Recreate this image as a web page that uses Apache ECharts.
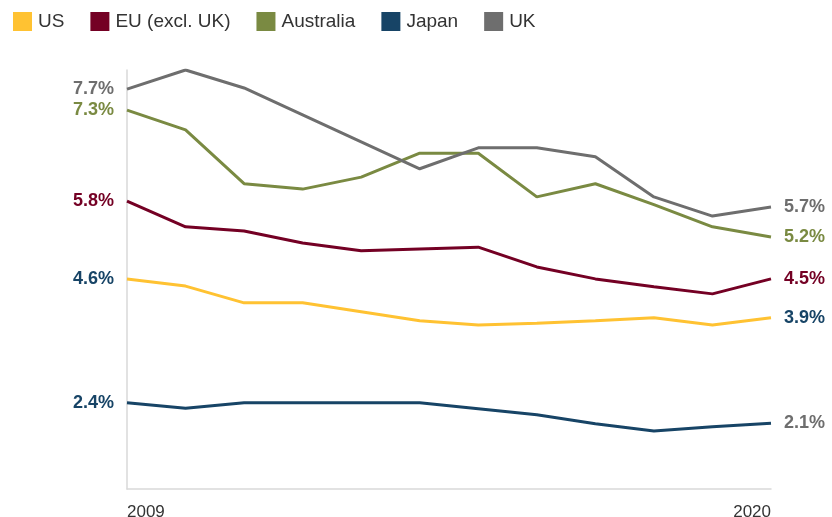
<!DOCTYPE html>
<html>
<head>
<meta charset="utf-8">
<script src="https://cdn.jsdelivr.net/npm/echarts@6/dist/echarts.min.js"></script>
<style>
html,body{margin:0;padding:0;background:#fff;}
#chart{width:832px;height:517px;}
</style>
</head>
<body>
<div id="chart"></div>
<script>
const years = ['2009','2010','2011','2012','2013','2014','2015','2016','2017','2018','2019','2020'];
const seriesNames = ['US','EU (excl. UK)','Australia','Japan','UK'];
const colors = ['#FFC232','#740024','#7A8A42','#174466','#6E6E6E'];
const us        = [4.51,4.39,4.11,4.11,3.96,3.81,3.74,3.77,3.81,3.86,3.74,3.86];
const eu        = [5.81,5.38,5.31,5.11,4.98,5.01,5.04,4.71,4.51,4.38,4.26,4.51];
const australia = [7.33,7.00,6.10,6.01,6.21,6.61,6.61,5.88,6.10,5.75,5.38,5.21];
const japan     = [2.44,2.35,2.44,2.44,2.44,2.44,2.34,2.24,2.09,1.97,2.04,2.10];
const uk        = [7.68,8.00,7.70,7.25,6.80,6.35,6.70,6.70,6.55,5.88,5.56,5.71];
const startLabels = ['4.6%','5.8%','7.3%','2.4%','7.7%'];
const endLabels   = ['3.9%','4.5%','5.2%','2.1%','5.7%'];
const startLabelColors = ['#174466','#740024','#7A8A42','#174466','#6E6E6E'];
const endLabelColors   = ['#174466','#740024','#7A8A42','#6E6E6E','#6E6E6E'];
const allData = [us, eu, australia, japan, uk];

const labelFont = {fontFamily:'Liberation Sans, Arial, sans-serif', fontSize:18, fontWeight:600};

const series = allData.map((arr, i) => ({
  name: seriesNames[i],
  type: 'line',
  symbol: 'circle',
  symbolSize: 0,
  showSymbol: true,
  showAllSymbol: true,
  lineStyle: {width: 3, color: colors[i]},
  itemStyle: {color: colors[i]},
  emphasis: {disabled: true},
  data: arr.map((v, j) => {
    if (j === 0) return {value: v, label: Object.assign({show:true, position:'left', distance:13, formatter: startLabels[i], color: startLabelColors[i]}, labelFont)};
    if (j === arr.length - 1) return {value: v, label: Object.assign({show:true, position:'right', distance:13, formatter: endLabels[i], color: endLabelColors[i]}, labelFont)};
    return v;
  })
}));

const chart = echarts.init(document.getElementById('chart'), null, {renderer:'canvas'});
chart.setOption({
  animation: false,
  color: colors,
  legend: {
    left: 8, top: 7,
    icon: 'rect', itemWidth: 19, itemHeight: 19, itemGap: 26,
    textStyle: {fontFamily:'Liberation Sans, Arial, sans-serif', fontSize: 19, color:'#333', padding:[0,0,0,1]},
    data: seriesNames
  },
  grid: {left: 127, right: 61, top: 70, bottom: 28, containLabel: false, outerBoundsMode: 'none'},
  xAxis: {
    type: 'category', data: years, boundaryGap: false,
    axisLine: {show: true, lineStyle: {color:'#d9d9d9', width: 1.5}},
    axisTick: {show: false},
    axisLabel: {
      interval: (idx) => idx === 0 || idx === years.length - 1,
      margin: 15, color:'#333', fontSize: 17, fontFamily:'Liberation Sans, Arial, sans-serif',
      alignMinLabel: 'left', alignMaxLabel: 'right'
    },
    splitLine: {show: false}
  },
  yAxis: {
    type: 'value', min: 1, max: 8,
    axisLine: {show: true, lineStyle: {color:'#d9d9d9', width: 1.5}},
    axisTick: {show: false},
    axisLabel: {show: false},
    splitLine: {show: false}
  },
  series: series
});
</script>
</body>
</html>
